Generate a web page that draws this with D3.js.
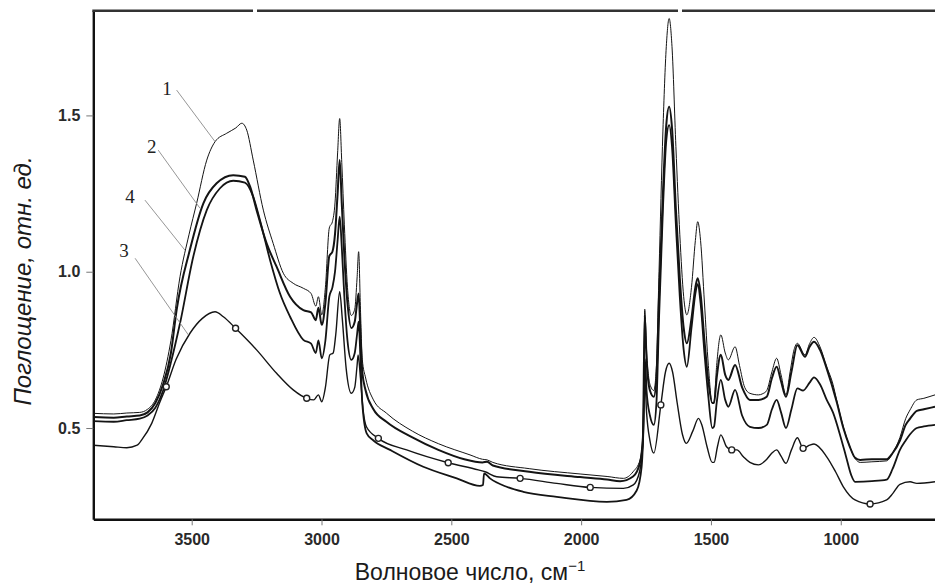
<!DOCTYPE html>
<html>
<head>
<meta charset="utf-8">
<script src="https://cdn.jsdelivr.net/npm/d3@7"></script>
<style>
  body { margin: 0; background: #fff; }
  svg { display: block; }
</style>
</head>
<body>
<div id="chart"></div>
<script>

// spectra: [wavenumber cm-1, absorbance]
var curve1 = [
    [3879,0.547],[3800,0.545],[3750,0.548],[3700,0.55],[3670,0.56],[3640,0.59],[3610,0.66],[3580,0.78],
    [3545,0.984],[3510,1.12],[3481,1.219],[3442,1.357],[3410,1.416],[3365,1.443],[3330,1.46],[3307,1.475],
    [3288,1.453],[3263,1.357],[3224,1.197],[3186,1.09],[3147,0.995],[3109,0.963],[3070,0.947],[3040,0.93],
    [3022,0.89],[3012,0.92],[2999,0.862],[2985,0.95],[2970,1.14],[2958,1.16],[2948,1.22],[2938,1.38],
    [2930,1.49],[2922,1.35],[2912,1.15],[2900,0.95],[2885,0.86],[2872,0.88],[2863,0.98],[2857,1.064],
    [2850,0.88],[2843,0.72],[2830,0.66],[2800,0.59],[2749,0.547],[2650,0.49],[2550,0.45],[2428,0.414],
    [2380,0.40],[2362,0.398],[2340,0.39],[2200,0.37],[2004,0.353],[1900,0.345],[1837,0.339],[1800,0.36],
    [1773,0.398],[1762,0.48],[1755,0.88],[1748,0.75],[1735,0.64],[1720,0.62],[1710,0.70],[1700,1.0],
    [1685,1.45],[1672,1.72],[1661,1.81],[1650,1.72],[1635,1.40],[1620,1.12],[1605,0.92],[1593,0.862],
    [1575,0.95],[1560,1.10],[1551,1.16],[1540,1.10],[1525,0.90],[1510,0.70],[1495,0.58],[1488,0.585],
    [1478,0.70],[1462,0.798],[1445,0.74],[1433,0.718],[1407,0.76],[1390,0.70],[1370,0.63],[1350,0.611],
    [1317,0.606],[1300,0.61],[1285,0.62],[1265,0.68],[1247,0.723],[1230,0.67],[1211,0.606],[1195,0.68],
    [1180,0.75],[1167,0.771],[1138,0.734],[1120,0.77],[1103,0.79],[1080,0.76],[1054,0.696],[1030,0.64],
    [1016,0.59],[990,0.504],[965,0.44],[945,0.403],[925,0.39],[880,0.392],[823,0.395],[800,0.42],
    [772,0.47],[750,0.53],[733,0.558],[707,0.59],[680,0.595],[660,0.60],[637,0.606]
];

var curve2 = [
    [3879,0.535],[3800,0.533],[3750,0.537],[3700,0.54],[3670,0.55],[3640,0.58],[3610,0.64],[3580,0.74],
    [3558,0.878],[3507,1.07],[3455,1.219],[3404,1.283],[3340,1.309],[3295,1.304],[3275,1.272],[3250,1.197],
    [3211,1.09],[3173,1.016],[3121,0.92],[3070,0.877],[3040,0.87],[3022,0.845],[3012,0.885],[2999,0.83],
    [2985,0.9],[2970,1.05],[2958,1.064],[2948,1.12],[2938,1.25],[2930,1.357],[2922,1.22],[2912,1.05],
    [2900,0.9],[2885,0.82],[2872,0.84],[2863,0.9],[2857,0.93],[2850,0.8],[2843,0.68],[2830,0.62],
    [2800,0.56],[2750,0.52],[2650,0.47],[2550,0.43],[2450,0.40],[2380,0.39],[2362,0.392],[2340,0.38],
    [2200,0.36],[2004,0.343],[1900,0.335],[1850,0.33],[1800,0.345],[1773,0.39],[1762,0.47],[1755,0.86],
    [1748,0.72],[1735,0.62],[1720,0.60],[1710,0.66],[1700,0.92],[1685,1.25],[1672,1.47],[1661,1.528],
    [1650,1.46],[1635,1.20],[1620,0.98],[1605,0.82],[1593,0.771],[1575,0.85],[1560,0.95],[1551,0.979],
    [1540,0.93],[1525,0.78],[1510,0.65],[1495,0.58],[1488,0.58],[1478,0.66],[1462,0.734],[1445,0.67],
    [1433,0.654],[1407,0.702],[1380,0.63],[1350,0.59],[1317,0.59],[1285,0.60],[1265,0.66],[1247,0.696],
    [1230,0.65],[1211,0.60],[1190,0.68],[1167,0.765],[1138,0.728],[1120,0.76],[1103,0.776],[1080,0.75],
    [1054,0.69],[1016,0.585],[990,0.50],[965,0.44],[945,0.405],[925,0.398],[880,0.40],[823,0.40],
    [800,0.42],[772,0.46],[750,0.51],[733,0.53],[707,0.555],[680,0.56],[637,0.568]
];

var curve3 = [
    [3879,0.445],[3800,0.44],[3750,0.437],[3710,0.445],[3690,0.465],[3654,0.515],[3622,0.584],[3598,0.632],
    [3560,0.72],[3506,0.804],[3460,0.85],[3410,0.872],[3378,0.856],[3331,0.819],[3250,0.75],[3173,0.675],
    [3109,0.622],[3057,0.595],[3030,0.59],[3012,0.606],[2999,0.584],[2985,0.63],[2968,0.734],[2955,0.74],
    [2945,0.80],[2930,0.936],[2920,0.85],[2905,0.69],[2885,0.611],[2872,0.63],[2863,0.70],[2859,0.734],
    [2850,0.66],[2840,0.56],[2827,0.504],[2781,0.467],[2672,0.43],[2512,0.389],[2396,0.366],[2370,0.36],
    [2325,0.344],[2235,0.339],[2094,0.323],[1965,0.31],[1837,0.307],[1799,0.318],[1775,0.36],[1762,0.45],
    [1755,0.66],[1748,0.55],[1735,0.46],[1720,0.42],[1693,0.574],[1675,0.68],[1661,0.707],[1648,0.68],
    [1630,0.58],[1610,0.48],[1595,0.451],[1570,0.49],[1548,0.531],[1535,0.51],[1515,0.44],[1495,0.39],
    [1488,0.39],[1475,0.44],[1462,0.478],[1440,0.44],[1420,0.43],[1400,0.43],[1375,0.408],[1350,0.39],
    [1317,0.382],[1285,0.40],[1265,0.42],[1247,0.43],[1230,0.41],[1211,0.387],[1190,0.43],[1167,0.469],
    [1145,0.435],[1120,0.445],[1103,0.449],[1054,0.408],[1020,0.36],[990,0.312],[945,0.27],[887,0.257],
    [823,0.27],[800,0.29],[772,0.32],[733,0.328],[707,0.323],[637,0.328]
];

var curve4 = [
    [3879,0.522],[3800,0.52],[3750,0.525],[3700,0.53],[3670,0.54],[3640,0.565],[3610,0.62],[3580,0.71],
    [3545,0.835],[3494,1.048],[3442,1.197],[3391,1.267],[3340,1.291],[3295,1.285],[3263,1.24],[3237,1.165],
    [3198,1.037],[3160,0.931],[3121,0.856],[3070,0.782],[3040,0.77],[3022,0.74],[3012,0.78],[2999,0.723],
    [2985,0.78],[2970,0.92],[2958,0.95],[2948,1.0],[2938,1.1],[2930,1.176],[2922,1.08],[2912,0.92],
    [2900,0.78],[2885,0.718],[2872,0.74],[2863,0.80],[2857,0.84],[2850,0.72],[2843,0.58],[2826,0.483],
    [2800,0.46],[2736,0.43],[2608,0.376],[2479,0.339],[2390,0.315],[2378,0.318],[2374,0.355],[2351,0.339],
    [2287,0.312],[2223,0.296],[2094,0.28],[1901,0.264],[1825,0.27],[1786,0.30],[1767,0.376],[1760,0.50],
    [1754,0.72],[1748,0.62],[1735,0.54],[1720,0.51],[1710,0.58],[1700,0.85],[1685,1.20],[1672,1.42],
    [1661,1.469],[1650,1.40],[1635,1.15],[1620,0.92],[1605,0.75],[1593,0.696],[1575,0.82],[1560,0.93],
    [1551,0.96],[1540,0.90],[1525,0.74],[1510,0.60],[1495,0.50],[1488,0.505],[1478,0.58],[1462,0.654],
    [1445,0.59],[1433,0.568],[1407,0.622],[1380,0.54],[1350,0.504],[1317,0.50],[1285,0.51],[1265,0.56],
    [1247,0.59],[1230,0.55],[1211,0.50],[1190,0.56],[1167,0.627],[1145,0.62],[1120,0.645],[1103,0.662],
    [1080,0.64],[1054,0.59],[1030,0.55],[1000,0.47],[980,0.41],[960,0.35],[945,0.328],[880,0.33],
    [823,0.335],[800,0.37],[772,0.43],[750,0.46],[733,0.48],[707,0.50],[680,0.505],[637,0.51]
];

// small circles drawn along curve 3
var markers3 = [[3598,0.632],[3331,0.819],[3057,0.595],[2781,0.467],[2512,0.389],[2235,0.339],
    [1965,0.31],[1693,0.574],[1420,0.43],[1145,0.435],[887,0.257]];

var xTicks = [3500, 3000, 2500, 2000, 1500, 1000];
var yTicks = [0.5, 1.0, 1.5];

// curve numbers: text point and where the leader line touches the curve
var curveLabels = ["1", "2", "4", "3"];
var labelText = [[3595,1.587],[3654,1.40],[3738,1.24],[3761,1.069]];
var leaderFrom = [[3558,1.581],[3629,1.389],[3680,1.229],[3718,1.043]];
var leaderTo = [[3410,1.416],[3468,1.203],[3526,1.069],[3513,0.798]];

var W = 935, H = 586;
var padL = 93.3, padR = 935, padT = 10.7, padB = 519.3;

var svg = d3.select("#chart").append("svg")
    .attr("width", W)
    .attr("height", H);

var x = d3.scaleLinear().domain([3879, 637]).range([padL, padR]);
var y = d3.scaleLinear().domain([0.208, 1.835]).range([padB, padT]);

var line = d3.line()
    .x(function(d) { return x(d[0]); })
    .y(function(d) { return y(d[1]); })
    .curve(d3.curveMonotoneX);

var plot = svg.append("g");

var series = [
    {data: curve3, w: 1.4},
    {data: curve4, w: 1.8},
    {data: curve2, w: 2.0},
    {data: curve1, w: 1.0}
];

series.forEach(function(s) {
    plot.append("path")
        .datum(s.data)
        .attr("d", line)
        .attr("fill", "none")
        .attr("stroke", "#141414")
        .attr("stroke-width", s.w)
        .attr("stroke-linejoin", "round");
});

plot.selectAll("circle.mk")
    .data(markers3)
    .enter()
    .append("circle")
    .attr("class", "mk")
    .attr("cx", function(d) { return x(d[0]); })
    .attr("cy", function(d) { return y(d[1]); })
    .attr("r", 3)
    .attr("fill", "#fff")
    .attr("stroke", "#222")
    .attr("stroke-width", 1.4);

// leader lines + numbers
for (var i = 0; i < curveLabels.length; i++) {
    svg.append("line")
        .attr("x1", x(leaderFrom[i][0])).attr("y1", y(leaderFrom[i][1]))
        .attr("x2", x(leaderTo[i][0])).attr("y2", y(leaderTo[i][1]))
        .attr("stroke", "#8a8a8a")
        .attr("stroke-width", 0.9);
    svg.append("text")
        .attr("x", x(labelText[i][0]))
        .attr("y", y(labelText[i][1]))
        .attr("dy", "0.35em")
        .attr("text-anchor", "middle")
        .attr("font-family", "'Liberation Serif', 'DejaVu Serif', serif")
        .attr("font-size", "19px")
        .attr("fill", "#222")
        .text(curveLabels[i]);
}

// axes
var xAxis = d3.axisBottom(x).tickValues(xTicks).tickSize(6).tickSizeOuter(0).tickPadding(8)
    .tickFormat(d3.format("d"));
var gx = svg.append("g").attr("transform", "translate(0," + padB + ")").call(xAxis);

var yAxis = d3.axisLeft(y).tickValues(yTicks).tickSize(7).tickSizeOuter(0).tickPadding(6)
    .tickFormat(d3.format(".1f"));
var gy = svg.append("g").attr("transform", "translate(" + padL + ",0)").call(yAxis);

[gx, gy].forEach(function(g) {
    g.select(".domain").attr("stroke", "#111").attr("stroke-width", 2.4);
    g.selectAll(".tick line").attr("stroke", "#777").attr("stroke-width", 1);
    g.selectAll(".tick text")
        .attr("font-family", "'Liberation Sans', Arial, sans-serif")
        .attr("font-size", "16px")
        .attr("font-weight", "bold")
        .attr("fill", "#2a2a2a");
});

// top frame line, broken in two places like the scan
var topSegs = [[padL - 1, 253], [257, 678], [682, padR]];
topSegs.forEach(function(s) {
    svg.append("line")
        .attr("x1", s[0]).attr("x2", s[1])
        .attr("y1", padT).attr("y2", padT)
        .attr("stroke", "#333")
        .attr("stroke-width", 2.6);
});

// axis titles
var xt = svg.append("text")
    .attr("x", 470)
    .attr("y", 580)
    .attr("text-anchor", "middle")
    .attr("font-family", "'Liberation Sans', Arial, sans-serif")
    .attr("font-size", "23px")
    .attr("fill", "#1a1a1a");
xt.append("tspan").text("Волновое число, см");
xt.append("tspan").attr("dy", "-9").attr("font-size", "15px").text("\u22121");

svg.append("text")
    .attr("transform", "translate(31,281) rotate(-90)")
    .attr("text-anchor", "middle")
    .attr("font-family", "'Liberation Sans', Arial, sans-serif")
    .attr("font-size", "24px")
    .attr("font-style", "italic")
    .attr("fill", "#1a1a1a")
    .text("Поглощение, отн. ед.");

</script>
</body>
</html>
